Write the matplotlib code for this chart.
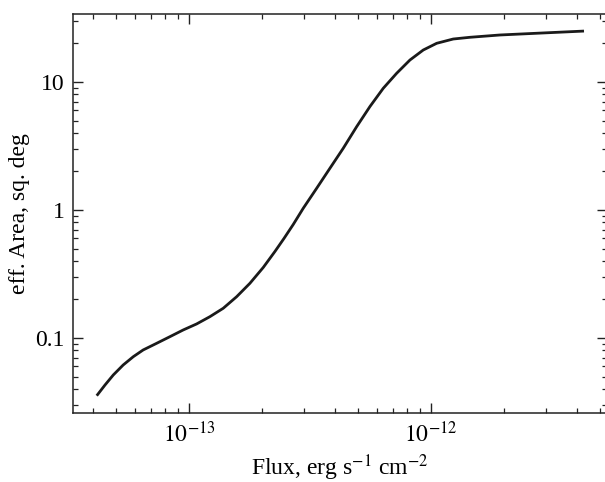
import math
import matplotlib
matplotlib.use("Agg")
import matplotlib.pyplot as plt
from matplotlib.ticker import LogLocator, FixedLocator, FuncFormatter, NullFormatter

plt.rcParams['font.family'] = ['Liberation Serif', 'DejaVu Serif']
plt.rcParams['mathtext.fontset'] = 'stix'

flux = [4.16e-14, 4.50e-14, 4.87e-14, 5.35e-14, 5.89e-14, 6.47e-14, 7.36e-14,
        8.35e-14, 9.47e-14, 1.076e-13, 1.221e-13, 1.386e-13, 1.575e-13, 1.787e-13,
        2.028e-13, 2.267e-13, 2.47e-13, 2.698e-13, 2.967e-13, 3.371e-13, 3.825e-13,
        4.341e-13, 4.932e-13, 5.597e-13, 6.353e-13, 7.217e-13, 8.189e-13, 9.295e-13,
        1.056e-12, 1.236e-12, 1.449e-12, 1.928e-12, 2.82e-12, 4.29e-12]
area = [0.0354, 0.0429, 0.0514, 0.0615, 0.0714, 0.0806, 0.0909,
        0.1024, 0.1155, 0.1287, 0.1467, 0.1706, 0.2102, 0.2675,
        0.3555, 0.4741, 0.5989, 0.7704, 1.031, 1.477, 2.118,
        3.034, 4.475, 6.43, 8.93, 11.70, 14.85, 17.78,
        20.06, 21.67, 22.35, 23.3, 24.1, 25.0]

xticks = [1e-13, 1e-12]
yticks = [0.1, 1, 10]

fig = plt.figure(figsize=(6.05, 4.82), dpi=100)
ax = fig.add_axes([0.1207, 0.1432, 0.8823, 0.8278])
ax.plot(flux, area, color='#1a1a1a', lw=2.0, solid_joinstyle='round', solid_capstyle='butt')
ax.set_xscale('log')
ax.set_yscale('log')
ax.set_xlim(3.32e-14, 5.33e-12)
ax.set_ylim(0.02594, 34.0)

ax.xaxis.set_major_locator(FixedLocator(xticks))
ax.yaxis.set_major_locator(FixedLocator(yticks))
ax.yaxis.set_minor_locator(LogLocator(base=10, subs=range(2, 10), numticks=20))
ax.yaxis.set_major_formatter(FuncFormatter(lambda v, p: f"{v:g}"))
ax.yaxis.set_minor_formatter(NullFormatter())
ax.xaxis.set_major_formatter(FuncFormatter(lambda v, p: r"$10^{%d}$" % round(math.log10(v))))
ax.xaxis.set_minor_locator(LogLocator(base=10, subs=range(2, 10), numticks=20))
ax.xaxis.set_minor_formatter(NullFormatter())

ax.tick_params(which='both', direction='in', top=True, right=True, labelsize=17, color='#222222')
ax.tick_params(which='major', length=7, width=1.0, pad=6)
ax.tick_params(which='minor', length=3.8, width=0.9)
for s in ax.spines.values():
    s.set_linewidth(1.1)
    s.set_color('#222222')

ax.set_xlabel(r"Flux, erg s$^{-1}$ cm$^{-2}$", fontsize=17, labelpad=4)
ax.set_ylabel("eff. Area, sq. deg", fontsize=17, labelpad=4)

fig.savefig("out.png", dpi=100)
